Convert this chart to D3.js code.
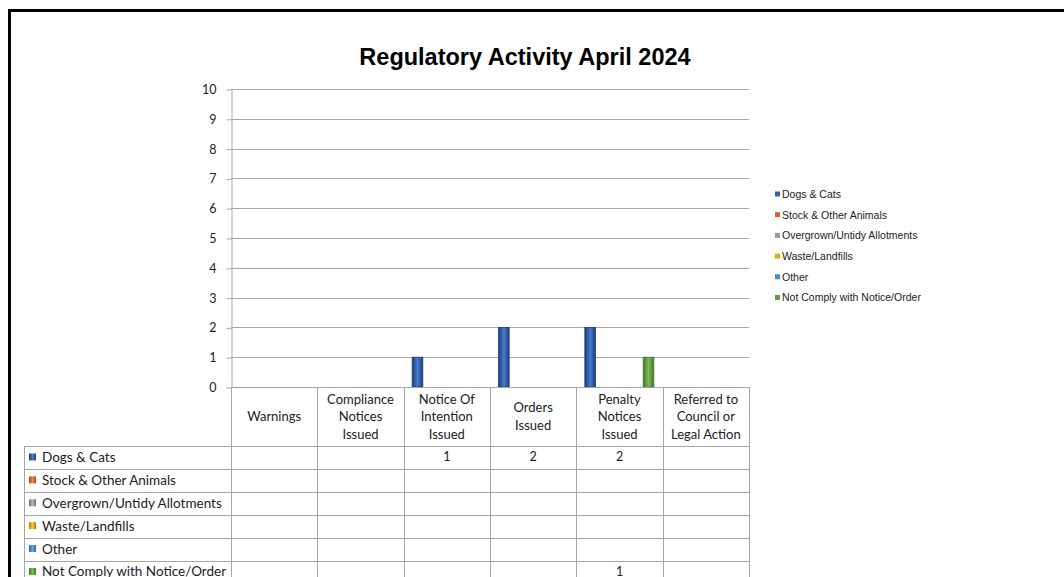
<!DOCTYPE html>
<html lang="en">
<head>
  <meta charset="UTF-8">
  <title>Regulatory Activity April 2024</title>
  <script src="https://cdn.jsdelivr.net/npm/d3@7"></script>
  <style>
    body { margin: 0; background: #fff; }
    svg { display: block; }
  </style>
</head>
<body>
<svg id="chart" width="1064" height="577"></svg>
<script>
  // chart data
  const title = "Regulatory Activity April 2024";
  const categories = ["Warnings", "Compliance Notices Issued", "Notice Of Intention Issued",
    "Orders Issued", "Penalty Notices Issued", "Referred to Council or Legal Action"];
  const categoryLines = [["Warnings"], ["Compliance", "Notices", "Issued"], ["Notice Of", "Intention", "Issued"],
    ["Orders", "Issued"], ["Penalty", "Notices", "Issued"], ["Referred to", "Council or", "Legal Action"]];
  const seriesNames = ["Dogs & Cats", "Stock & Other Animals", "Overgrown/Untidy Allotments",
    "Waste/Landfills", "Other", "Not Comply with Notice/Order"];
  const dogsCats      = [null, null, 1, 2, 2, null];
  const stockAnimals  = [null, null, null, null, null, null];
  const overgrown     = [null, null, null, null, null, null];
  const wasteLandfill = [null, null, null, null, null, null];
  const other         = [null, null, null, null, null, null];
  const notComply     = [null, null, null, null, 1, null];
  const seriesValues = [dogsCats, stockAnimals, overgrown, wasteLandfill, other, notComply];
  const yTicks = [0, 1, 2, 3, 4, 5, 6, 7, 8, 9, 10];

  const colors = ["#3560ad", "#d4672b", "#9a9a9a", "#e3aa10", "#4b8bd0", "#62a043"];
  const darks  = ["#1f3f7a", "#a8481a", "#6e6e6e", "#b07f00", "#2f6aa8", "#3f7a28"];
  const lights = ["#4d7bcb", "#ee8a4e", "#b8b8b8", "#f7c64a", "#74a9e0", "#7dbb57"];

  const svg = d3.select("#chart");
  const defs = svg.append("defs");

  // plot geometry
  const plot = { left: 231, right: 749, top: 89, bottom: 387 };
  const tableLeft = 24;
  const headerBottom = 446;
  const rowH = 22.9;
  const cellFont = "Lato, Carlito, Calibri, sans-serif";

  const x0 = d3.scaleBand().domain(categories).range([plot.left, plot.right]);
  const x1 = d3.scaleBand().domain(seriesNames).range([8, 78]);
  const y = d3.scaleLinear().domain([0, 10]).range([plot.bottom, plot.top]);

  // gradients for the cylinder-ish bars
  seriesNames.forEach((s, i) => {
    const g = defs.append("linearGradient").attr("id", "grad" + i)
      .attr("x1", "0%").attr("x2", "100%").attr("y1", "0%").attr("y2", "0%");
    g.append("stop").attr("offset", "0%").attr("stop-color", darks[i]);
    g.append("stop").attr("offset", "30%").attr("stop-color", colors[i]);
    g.append("stop").attr("offset", "50%").attr("stop-color", lights[i]);
    g.append("stop").attr("offset", "72%").attr("stop-color", colors[i]);
    g.append("stop").attr("offset", "100%").attr("stop-color", darks[i]);
  });

  // outer black frame
  svg.append("rect")
    .attr("x", 9.5).attr("y", 10.5)
    .attr("width", 1064).attr("height", 577)
    .attr("fill", "none").attr("stroke", "#000").attr("stroke-width", 3);

  // title
  svg.append("text")
    .attr("x", 525).attr("y", 65)
    .attr("text-anchor", "middle")
    .attr("font-family", "Liberation Sans, Arial, sans-serif")
    .attr("font-weight", "bold").attr("font-size", 23.5)
    .attr("fill", "#000")
    .text(title);

  // gridlines
  svg.append("g").selectAll("line")
    .data(yTicks.filter(d => d > 0))
    .join("line")
    .attr("x1", plot.left).attr("x2", plot.right)
    .attr("y1", d => Math.round(y(d)) + 0.5).attr("y2", d => Math.round(y(d)) + 0.5)
    .attr("stroke", "#a6a6a6").attr("stroke-width", 1);

  // y axis
  const yAxis = svg.append("g")
    .attr("transform", "translate(" + (plot.left + 0.5) + ",0.5)")
    .call(d3.axisLeft(y).tickValues(yTicks).tickSize(5).tickPadding(10).tickSizeOuter(0));
  yAxis.select(".domain").attr("stroke", "#a6a6a6");
  yAxis.selectAll(".tick line").attr("stroke", "#a6a6a6");
  yAxis.selectAll(".tick text")
    .attr("font-family", cellFont)
    .attr("font-size", 12.5).attr("fill", "#222");

  // bars
  const groups = svg.append("g").selectAll("g")
    .data(categories)
    .join("g")
    .attr("transform", d => "translate(" + x0(d) + ",0)");

  groups.selectAll("rect")
    .data((c, ci) => seriesNames.map((s, si) => ({ s, si, v: seriesValues[si][ci] })).filter(d => d.v != null && d.v > 0))
    .join("rect")
    .attr("x", d => x1(d.s) + 0.5)
    .attr("width", x1.bandwidth() - 1)
    .attr("y", d => y(d.v))
    .attr("height", d => y(0) - y(d.v))
    .attr("fill", d => "url(#grad" + d.si + ")")
    .attr("stroke", d => darks[d.si]).attr("stroke-width", 0.8);

  // data table
  const table = svg.append("g").attr("stroke", "#a6a6a6").attr("stroke-width", 1);
  const rowTops = seriesNames.map((s, i) => headerBottom + i * rowH);
  const tableBottom = 600;

  // vertical lines of the category columns
  table.selectAll("line.v")
    .data(categories.map(c => x0(c)).concat([plot.right]))
    .join("line").attr("class", "v")
    .attr("x1", d => Math.round(d) + 0.5).attr("x2", d => Math.round(d) + 0.5)
    .attr("y1", plot.bottom).attr("y2", tableBottom);
  // left edge of row labels
  table.append("line")
    .attr("x1", tableLeft + 0.5).attr("x2", tableLeft + 0.5)
    .attr("y1", headerBottom).attr("y2", tableBottom);
  // zero line / header top
  table.append("line")
    .attr("x1", plot.left).attr("x2", plot.right)
    .attr("y1", plot.bottom + 0.5).attr("y2", plot.bottom + 0.5);
  // row lines
  table.selectAll("line.h")
    .data(rowTops)
    .join("line").attr("class", "h")
    .attr("x1", tableLeft).attr("x2", plot.right)
    .attr("y1", d => Math.round(d) + 0.5).attr("y2", d => Math.round(d) + 0.5);

  // header labels
  const hdr = svg.append("g")
    .attr("font-family", cellFont)
    .attr("font-size", 13).attr("fill", "#222").attr("text-anchor", "middle");
  categories.forEach((c, i) => {
    const lines = categoryLines[i];
    const cy = (plot.bottom + headerBottom) / 2;
    const lh = 17.5;
    const t = hdr.append("text")
      .attr("x", x0(c) + x0.bandwidth() / 2);
    lines.forEach((ln, j) => {
      t.append("tspan")
        .attr("x", x0(c) + x0.bandwidth() / 2)
        .attr("y", cy + (j - (lines.length - 1) / 2) * lh + 4.5)
        .text(ln);
    });
  });

  // row labels with keys
  const rows = svg.append("g")
    .attr("font-family", cellFont)
    .attr("font-size", 13.5).attr("fill", "#222");
  seriesNames.forEach((s, i) => {
    const cy = rowTops[i] + rowH / 2;
    rows.append("rect")
      .attr("x", 29).attr("y", cy - 4).attr("width", 7).attr("height", 7)
      .attr("fill", "url(#grad" + i + ")");
    rows.append("text")
      .attr("x", 42).attr("y", cy + 4.5)
      .text(s);
    categories.forEach((c, ci) => {
      const v = seriesValues[i][ci];
      if (v == null) return;
      rows.append("text")
        .attr("x", x0(c) + x0.bandwidth() / 2)
        .attr("y", cy + 4)
        .attr("font-size", 12.5)
        .attr("text-anchor", "middle")
        .text(v);
    });
  });

  // legend
  const legend = svg.append("g")
    .attr("font-family", "Liberation Sans, Arial, sans-serif")
    .attr("font-size", 10.5).attr("fill", "#222");
  seriesNames.forEach((s, i) => {
    const ly = 194 + i * 20.7;
    legend.append("rect")
      .attr("x", 775).attr("y", ly - 2.5).attr("width", 5).attr("height", 5)
      .attr("fill", colors[i]);
    legend.append("text")
      .attr("x", 782).attr("y", ly + 3.8)
      .text(s);
  });
</script>
</body>
</html>
